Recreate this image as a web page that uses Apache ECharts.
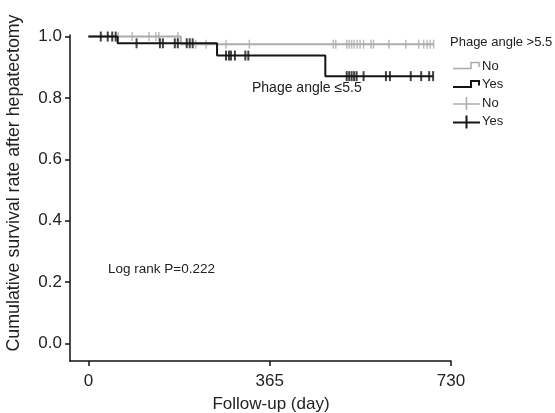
<!DOCTYPE html>
<html>
<head>
<meta charset="utf-8">
<script src="https://cdn.jsdelivr.net/npm/echarts@6/dist/echarts.min.js"></script>
<style>
html,body{margin:0;padding:0;background:#fff;}
#chart{width:555px;height:413px;}
</style>
</head>
<body>
<div id="chart"></div>
<script>
// ---- data ----
const xTickValues = [0, 365, 730];
const yTickValues = [0, 0.2, 0.4, 0.6, 0.8, 1.0];

// Phage angle >5.5 (gray) KM steps
const grayStepDays = [0, 186, 695];
const grayStepSurv = [1.0, 0.975, 0.975];
const grayCensorDays = [60, 88, 122, 136, 142, 180, 216, 237, 277, 324,
  493, 498, 520, 525, 530, 535, 541, 547, 554, 569, 574, 605, 639, 665, 675, 682, 688, 695];

// Phage angle <=5.5 (black) KM steps
const blackStepDays = [0, 59, 259, 477, 694];
const blackStepSurv = [1.0, 0.978, 0.938, 0.871, 0.871];
const blackCensorDays = [25, 39, 48, 55, 97, 144, 150, 174, 180, 198, 204, 210,
  277, 283, 287, 295, 316, 322,
  520, 525, 530, 535, 540, 554, 599, 607, 649, 670, 686, 694];

const GRAY = '#ababab';
const BLACK = '#141414';
const FONT = '"Liberation Sans", Arial, Helvetica, sans-serif';

function survAt(days, surv, t) {
  let s = surv[0];
  for (let i = 0; i < days.length; i++) { if (days[i] <= t) s = surv[i]; }
  return s;
}
const grayLine = grayStepDays.map((d, i) => [d, grayStepSurv[i]]);
const blackLine = blackStepDays.map((d, i) => [d, blackStepSurv[i]]);
const grayCens = grayCensorDays.map(d => [d, survAt(grayStepDays, grayStepSurv, d)]);
const blackCens = blackCensorDays.map(d => [d, survAt(blackStepDays, blackStepSurv, d)]);

const chart = echarts.init(document.getElementById('chart'), null, {renderer: 'canvas'});

function stepIcon(x, c, color, w) {
  return {type: 'polyline', silent: true, shape: {points: [[x, c + 2.5], [x + 18, c + 2.5], [x + 18, c - 3.5], [x + 26, c - 3.5], [x + 26, c + 1]]},
    style: {stroke: color, lineWidth: w, fill: null}};
}
function crossIcon(x, c, color, w) {
  return {type: 'group', silent: true, children: [
    {type: 'line', shape: {x1: x, y1: c + 1, x2: x + 27, y2: c + 1}, style: {stroke: color, lineWidth: w}},
    {type: 'line', shape: {x1: x + 13.5, y1: c - 6, x2: x + 13.5, y2: c + 7}, style: {stroke: color, lineWidth: w}}
  ]};
}
function txt(x, y, s, size, extra) {
  return Object.assign({type: 'text', silent: true, x: x, y: y,
    style: {text: s, font: size + 'px ' + FONT, fill: '#222', textVerticalAlign: 'middle', textAlign: 'left'}}, extra || {});
}

const option = {
  animation: false,
  backgroundColor: '#fff',
  grid: {left: 70, right: 104, top: 35, bottom: 52, containLabel: false},
  xAxis: {
    type: 'value', min: -37, max: 730,
    axisLine: {show: true, onZero: false, lineStyle: {color: '#111', width: 1.5}},
    axisTick: {show: true, length: 5, customValues: xTickValues, lineStyle: {color: '#111', width: 1.5}},
    axisLabel: {show: true, customValues: xTickValues, margin: 12, color: '#222', fontSize: 17, fontFamily: FONT},
    splitLine: {show: false}
  },
  yAxis: {
    type: 'value', min: -0.057, max: 1.005,
    axisLine: {show: true, onZero: false, lineStyle: {color: '#111', width: 1.5}},
    axisTick: {show: true, length: 5, customValues: yTickValues, lineStyle: {color: '#111', width: 1.5}},
    axisLabel: {show: true, customValues: yTickValues, margin: 8, color: '#222', fontSize: 17, fontFamily: FONT,
      formatter: v => v.toFixed(1)},
    splitLine: {show: false}
  },
  series: [
    {type: 'line', name: 'gray', data: grayLine, step: 'end', showSymbol: false, z: 2,
      lineStyle: {color: GRAY, width: 2}, itemStyle: {color: GRAY}},
    {type: 'scatter', data: grayCens, symbol: 'rect', symbolSize: [1.5, 9], z: 3,
      itemStyle: {color: GRAY}},
    {type: 'line', name: 'black', data: blackLine, step: 'end', showSymbol: false, z: 4,
      lineStyle: {color: BLACK, width: 2}, itemStyle: {color: BLACK}},
    {type: 'scatter', data: blackCens, symbol: 'rect', symbolSize: [2, 10], z: 5,
      itemStyle: {color: BLACK}}
  ],
  graphic: [
    txt(14, 183, '', 17, {rotation: Math.PI / 2, style: {text: 'Cumulative survival rate after hepatectomy', font: '17.8px ' + FONT, fill: '#222', textAlign: 'center', textVerticalAlign: 'middle'}}),
    txt(271, 404, '', 17, {style: {text: 'Follow-up (day)', font: '17px ' + FONT, fill: '#222', textAlign: 'center', textVerticalAlign: 'middle'}}),
    txt(252, 88, 'Phage angle \u22645.5', 14),
    txt(108, 269, 'Log rank P=0.222', 13.5),
    txt(450, 42, 'Phage angle >5.5', 13),
    stepIcon(453, 66, GRAY, 1.5),
    txt(482, 66, 'No', 13),
    stepIcon(453, 84.5, BLACK, 2),
    txt(482, 84.5, 'Yes', 13),
    crossIcon(453, 103, GRAY, 1.5),
    txt(482, 103, 'No', 13),
    crossIcon(453, 121.5, BLACK, 2),
    txt(482, 121.5, 'Yes', 13)
  ]
};
chart.setOption(option);
</script>
</body>
</html>
